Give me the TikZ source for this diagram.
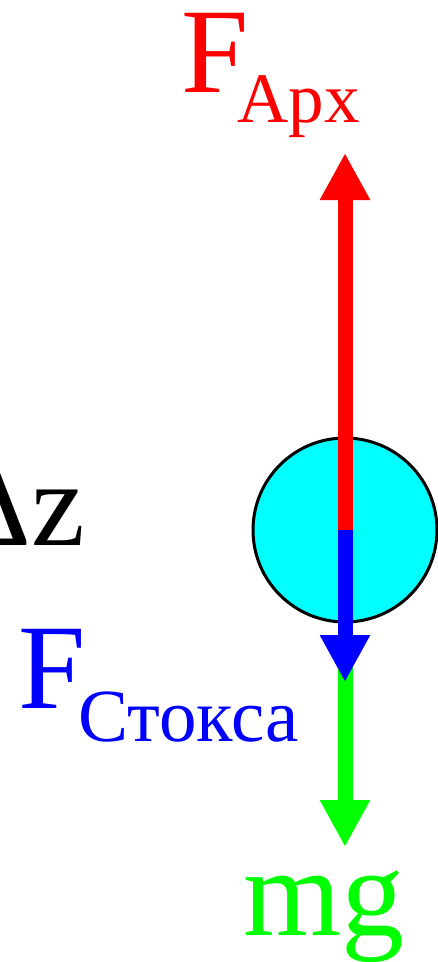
\documentclass[tikz,border=0pt]{standalone}
\usepackage{fontspec}
\setmainfont{Liberation Serif}
\usepackage{tikz}
\usetikzlibrary{arrows.meta}
\definecolor{forceRed}{HTML}{FF0000}
\definecolor{forceBlue}{HTML}{0000FF}
\definecolor{forceGreen}{HTML}{00FF00}
\definecolor{ballCyan}{HTML}{00FFFF}
\newcommand{\bigfont}{\fontsize{121}{121}\selectfont}
\newcommand{\subfont}{\fontsize{71}{71}\selectfont}

\begin{document}
\begin{tikzpicture}[
    x=1pt, y=-1pt,
    lbl/.style={inner sep=0pt,outer sep=0pt,font=\bigfont},
    force/.style={line width=15pt,-{Triangle[length=47pt,width=47pt]}},
    ball/.style={circle,draw=black,line width=3pt,fill=ballCyan,minimum size=184pt,inner sep=0pt}
  ]
    \useasboundingbox (0,0) rectangle (438,962);
    \node[ball] (ball) at (345,530) {};
    \coordinate (archTip) at (345,153);
    \coordinate (stokesTip) at (345,682);
    \coordinate (mgTip) at (345,847);
    \draw[force,forceGreen] (ball.south) -- (mgTip);
    \draw[force,forceBlue] (ball.center) -- (stokesTip);
    \draw[force,forceRed] (ball.center) -- (archTip);
    \node[lbl,anchor=base west,text=forceRed] (arch) at (181,92)
      {F\kern-11pt\raisebox{-30pt}{\subfont Арх}};
    \node[lbl,anchor=base east] (dz) at (85,545) {Δz};
    \node[lbl,anchor=base west,text=forceBlue] (stokes) at (19,708)
      {F\kern-8pt\raisebox{-33pt}{\fontsize{75}{75}\selectfont Стокса}};
    \node[lbl,anchor=base west,text=forceGreen,font=\fontsize{126}{126}\selectfont] (mg) at (243,935) {mg};
\end{tikzpicture}
\end{document}
